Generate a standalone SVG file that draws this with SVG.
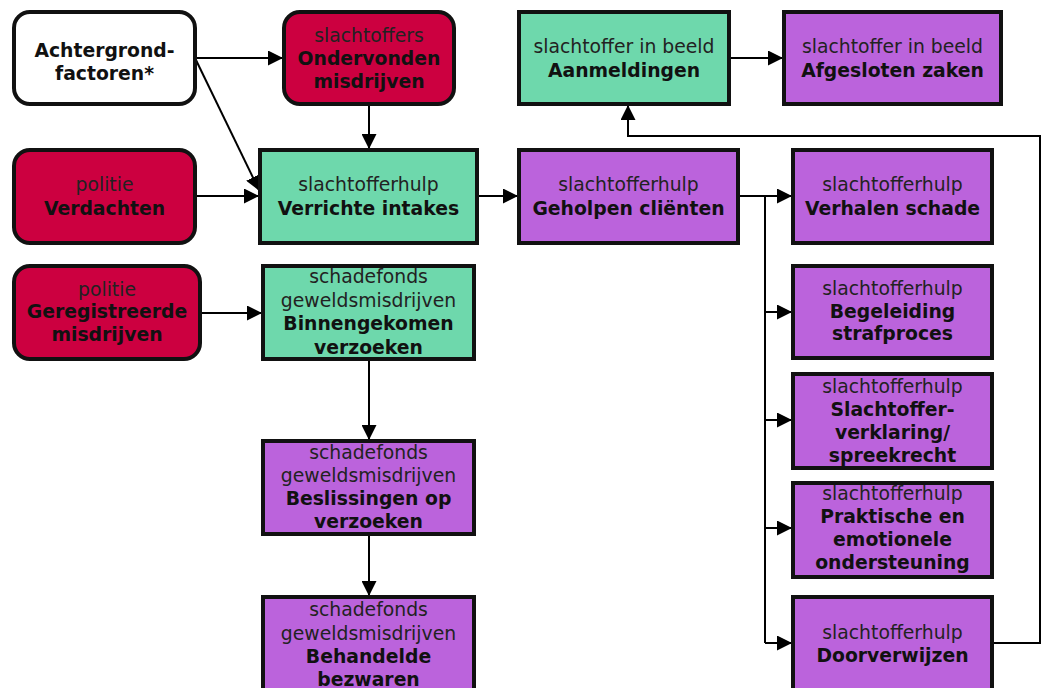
<svg xmlns="http://www.w3.org/2000/svg" width="1042" height="688" viewBox="0 0 1042 688">
<style>
.box{stroke:#111;stroke-width:4}
.white{fill:#ffffff}
.red{fill:#CC0040}
.green{fill:#6ED8AC}
.purple{fill:#BB63DC}
text{font-family:"DejaVu Sans","Verdana",sans-serif;font-size:18.8px;text-anchor:middle}
.n{fill:#222;font-weight:normal}
.b{fill:#111;font-weight:bold}
.con{fill:none;stroke:#000;stroke-width:2}
</style>
<defs>
<marker id="arr" markerUnits="userSpaceOnUse" markerWidth="15" markerHeight="15" refX="14" refY="7.5" orient="auto">
<path d="M0,0 L15,7.5 L0,15 z" fill="#000"/>
</marker>
</defs>
<rect width="1042" height="688" fill="#fff"/>
<g id="connectors">
<path class="con" d="M195,58 H282" marker-end="url(#arr)"/>
<path class="con" d="M195,58 L259,190" marker-end="url(#arr)"/>
<path class="con" d="M369,104 V148" marker-end="url(#arr)"/>
<path class="con" d="M195,196 H258" marker-end="url(#arr)"/>
<path class="con" d="M477,196 H517" marker-end="url(#arr)"/>
<path class="con" d="M729,58 H782" marker-end="url(#arr)"/>
<path class="con" d="M738,196 H791" marker-end="url(#arr)"/>
<path class="con" d="M765,196 V643"/>
<path class="con" d="M765,312 H791" marker-end="url(#arr)"/>
<path class="con" d="M765,420 H791" marker-end="url(#arr)"/>
<path class="con" d="M765,528 H791" marker-end="url(#arr)"/>
<path class="con" d="M765,643 H791" marker-end="url(#arr)"/>
<path class="con" d="M992,643 H1040 V136 H628 V106" marker-end="url(#arr)"/>
<path class="con" d="M200,313 H261" marker-end="url(#arr)"/>
<path class="con" d="M369,359 V439" marker-end="url(#arr)"/>
<path class="con" d="M369,534 V595" marker-end="url(#arr)"/>
</g>
<g id="achtergrond">
<rect class="box white" x="14" y="12" width="181" height="92" rx="16"/>
<text class="b" x="104.5" y="57">Achtergrond-</text>
<text class="b" x="104.5" y="80">factoren*</text>
</g>
<g id="ondervonden">
<rect class="box red" x="284" y="12" width="170" height="92" rx="16"/>
<text class="n" x="369" y="42">slachtoffers</text>
<text class="b" x="369" y="65">Ondervonden</text>
<text class="b" x="369" y="88">misdrijven</text>
</g>
<g id="aanmeldingen">
<rect class="box green" x="519" y="12" width="210" height="92"/>
<text class="n" x="624" y="53">slachtoffer in beeld</text>
<text class="b" x="624" y="77">Aanmeldingen</text>
</g>
<g id="afgesloten">
<rect class="box purple" x="784" y="12" width="217" height="92"/>
<text class="n" x="892.5" y="53">slachtoffer in beeld</text>
<text class="b" x="892.5" y="77">Afgesloten zaken</text>
</g>
<g id="verdachten">
<rect class="box red" x="14" y="150" width="181" height="93" rx="16"/>
<text class="n" x="104.5" y="191">politie</text>
<text class="b" x="104.5" y="215">Verdachten</text>
</g>
<g id="intakes">
<rect class="box green" x="260" y="150" width="217" height="93"/>
<text class="n" x="368.5" y="191">slachtofferhulp</text>
<text class="b" x="368.5" y="215">Verrichte intakes</text>
</g>
<g id="geholpen">
<rect class="box purple" x="519" y="150" width="219" height="93"/>
<text class="n" x="628.5" y="191">slachtofferhulp</text>
<text class="b" x="628.5" y="215">Geholpen cliënten</text>
</g>
<g id="verhalen">
<rect class="box purple" x="793" y="150" width="199" height="93"/>
<text class="n" x="892.5" y="191">slachtofferhulp</text>
<text class="b" x="892.5" y="215">Verhalen schade</text>
</g>
<g id="geregistreerd">
<rect class="box red" x="14" y="266" width="186" height="93" rx="16"/>
<text class="n" x="107" y="296">politie</text>
<text class="b" x="107" y="318">Geregistreerde</text>
<text class="b" x="107" y="341">misdrijven</text>
</g>
<g id="binnengekomen">
<rect class="box green" x="263" y="266" width="211" height="93"/>
<text class="n" x="368.5" y="283">schadefonds</text>
<text class="n" x="368.5" y="307">geweldsmisdrijven</text>
<text class="b" x="368.5" y="330">Binnengekomen</text>
<text class="b" x="368.5" y="354">verzoeken</text>
</g>
<g id="begeleiding">
<rect class="box purple" x="793" y="266" width="199" height="92"/>
<text class="n" x="892.5" y="295">slachtofferhulp</text>
<text class="b" x="892.5" y="318">Begeleiding</text>
<text class="b" x="892.5" y="340">strafproces</text>
</g>
<g id="verklaring">
<rect class="box purple" x="793" y="374" width="199" height="94"/>
<text class="n" x="892.5" y="393">slachtofferhulp</text>
<text class="b" x="892.5" y="416">Slachtoffer-</text>
<text class="b" x="892.5" y="439">verklaring/</text>
<text class="b" x="892.5" y="462">spreekrecht</text>
</g>
<g id="praktisch">
<rect class="box purple" x="793" y="483" width="199" height="94"/>
<text class="n" x="892.5" y="500">slachtofferhulp</text>
<text class="b" x="892.5" y="523">Praktische en</text>
<text class="b" x="892.5" y="546">emotionele</text>
<text class="b" x="892.5" y="569">ondersteuning</text>
</g>
<g id="doorverwijzen">
<rect class="box purple" x="793" y="597" width="199" height="110"/>
<text class="n" x="892.5" y="639">slachtofferhulp</text>
<text class="b" x="892.5" y="662">Doorverwijzen</text>
</g>
<g id="beslissingen">
<rect class="box purple" x="263" y="441" width="211" height="93"/>
<text class="n" x="368.5" y="459">schadefonds</text>
<text class="n" x="368.5" y="482">geweldsmisdrijven</text>
<text class="b" x="368.5" y="505">Beslissingen op</text>
<text class="b" x="368.5" y="528">verzoeken</text>
</g>
<g id="behandelde">
<rect class="box purple" x="263" y="597" width="211" height="110"/>
<text class="n" x="368.5" y="616">schadefonds</text>
<text class="n" x="368.5" y="640">geweldsmisdrijven</text>
<text class="b" x="368.5" y="663">Behandelde</text>
<text class="b" x="368.5" y="686">bezwaren</text>
</g>
</svg>
